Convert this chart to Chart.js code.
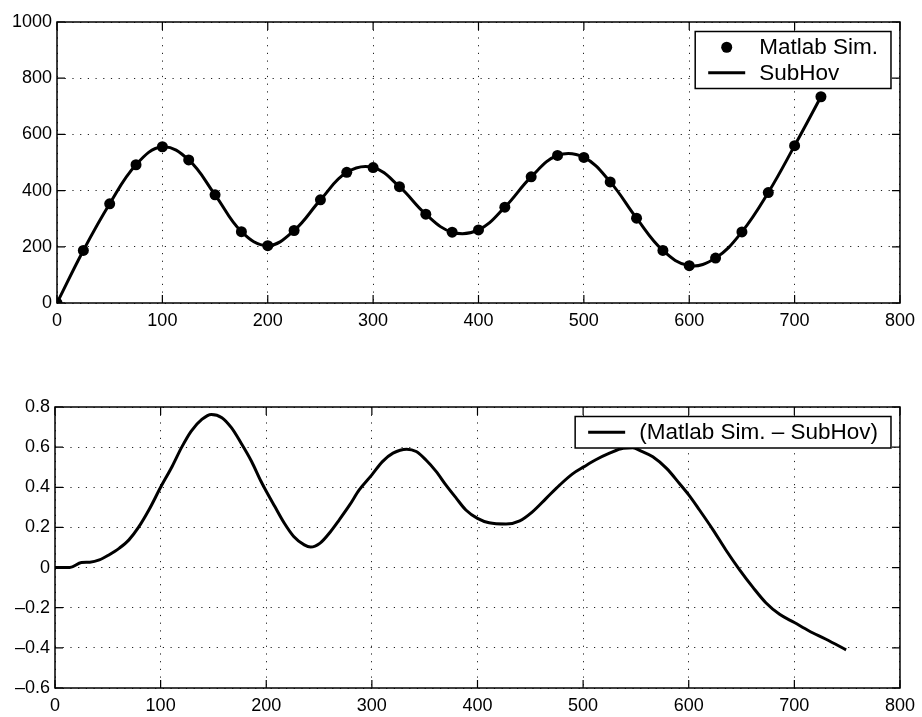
<!DOCTYPE html>
<html>
<head>
<meta charset="utf-8">
<script src="https://cdn.jsdelivr.net/npm/chart.js@4.4.1/dist/chart.umd.min.js"></script>
<style>
  html, body { margin: 0; padding: 0; background: #fff; }
  canvas { position: absolute; left: 0; }
  #chart-top { top: 0; }
  #chart-diff { top: 340px; }
</style>
</head>
<body>
<canvas id="chart-top" width="922" height="340"></canvas>
<canvas id="chart-diff" width="922" height="377"></canvas>
<script>
/* ── data ────────────────────────────────────────────────── */
const SIM_X = [0, 25, 50, 75, 100, 125, 150, 175, 200, 225, 250, 275, 300, 325, 350,
               375, 400, 425, 450, 475, 500, 525, 550, 575, 600, 625, 650, 675, 700, 725];
const SIM_Y = [0, 187, 353, 492, 556, 509, 385, 254, 204, 258, 367, 465, 482, 414, 316,
               252, 260, 341, 449, 525, 518, 431, 302, 187, 133, 160, 253, 393, 560, 734];

const DIFF_X = [0, 14, 25, 33, 42, 51, 61, 70, 79, 89, 100, 111, 120, 129, 139, 148,
                158, 167, 176, 186, 195, 200, 208, 217, 226, 236, 242, 251, 261, 269,
                279, 288, 300, 310, 320, 333, 342, 351, 361, 370, 380, 389, 400, 411,
                427, 440, 452, 465, 478, 490, 501, 512, 525, 538, 547, 555, 566, 579,
                591, 600, 610, 623, 635, 648, 661, 673, 686, 700, 714, 730, 749];
const DIFF_Y = [0, 0, 0.025, 0.027, 0.038, 0.063, 0.097, 0.138, 0.2, 0.288, 0.40, 0.505,
                0.6, 0.68, 0.738, 0.763, 0.747, 0.697, 0.622, 0.53, 0.43, 0.38, 0.305,
                0.222, 0.155, 0.113, 0.102, 0.122, 0.18, 0.237, 0.312, 0.387, 0.462,
                0.528, 0.57, 0.59, 0.578, 0.537, 0.478, 0.412, 0.345, 0.287, 0.245,
                0.223, 0.217, 0.233, 0.278, 0.345, 0.412, 0.467, 0.503, 0.537, 0.57,
                0.595, 0.597, 0.58, 0.552, 0.494, 0.42, 0.362, 0.288, 0.188, 0.089,
                -0.01, -0.1, -0.175, -0.233, -0.274, -0.316, -0.357, -0.41];

const X_TICKS = [0, 100, 200, 300, 400, 500, 600, 700, 800];
const TOP_Y_TICKS = [0, 200, 400, 600, 800, 1000];
const DIFF_Y_TICKS = [-0.6, -0.4, -0.2, 0, 0.2, 0.4, 0.6, 0.8];

const LABEL_SIM = 'Matlab Sim.';
const LABEL_SUB = 'SubHov';
const LABEL_DIFF = '(Matlab Sim. \u2013 SubHov)';

/* ── shared look ─────────────────────────────────────────── */
const FONT = 'Liberation Sans, Arial, Helvetica, sans-serif';
const INK = '#000';

// matlab style box: frame, inward ticks on all sides, boxed legend top-right
const matlabBox = {
  id: 'matlabBox',
  afterDraw(chart) {
    const { ctx, chartArea: a, scales } = chart;
    ctx.save();
    ctx.strokeStyle = INK;
    ctx.lineWidth = 1.5;
    ctx.setLineDash([]);
    ctx.strokeRect(a.left, a.top, a.right - a.left, a.bottom - a.top);

    const tl = 8;
    ctx.lineWidth = 1.2;
    ctx.beginPath();
    scales.x.ticks.forEach(t => {
      const px = scales.x.getPixelForValue(t.value);
      ctx.moveTo(px, a.bottom); ctx.lineTo(px, a.bottom - tl);
      ctx.moveTo(px, a.top); ctx.lineTo(px, a.top + tl);
    });
    scales.y.ticks.forEach(t => {
      const py = scales.y.getPixelForValue(t.value);
      ctx.moveTo(a.left, py); ctx.lineTo(a.left + tl, py);
      ctx.moveTo(a.right, py); ctx.lineTo(a.right - tl, py);
    });
    ctx.stroke();

    // legend
    const items = chart.data.datasets.filter(d => d.label);
    const fs = 22.5, padX = 13, sample = 37, gap = 14, rowH = 25.5, padY = 3;
    ctx.font = `${fs}px ${FONT}`;
    const textW = Math.max(...items.map(d => ctx.measureText(d.label).width));
    const w = padX + sample + gap + textW + padX;
    const h = items.length * rowH + padY * 2;
    const x0 = a.right - 9 - w, y0 = a.top + 9.5;
    ctx.fillStyle = '#fff';
    ctx.fillRect(x0, y0, w, h);
    ctx.lineWidth = 1.5;
    ctx.strokeRect(x0, y0, w, h);
    items.forEach((d, i) => {
      const cy = y0 + padY + rowH * (i + 0.5);
      const sx = x0 + padX;
      if (d.showLine === false) {
        ctx.fillStyle = INK;
        ctx.beginPath();
        ctx.arc(sx + sample / 2, cy, d.pointRadius, 0, Math.PI * 2);
        ctx.fill();
      } else {
        ctx.strokeStyle = INK;
        ctx.lineWidth = d.borderWidth;
        ctx.beginPath();
        ctx.moveTo(sx, cy); ctx.lineTo(sx + sample, cy);
        ctx.stroke();
      }
      ctx.fillStyle = INK;
      ctx.textBaseline = 'middle';
      ctx.textAlign = 'left';
      ctx.fillText(d.label, sx + sample + gap, cy + 1);
    });
    ctx.restore();
  },
};

function axes(yTicks, yFmt, yWidth, xHeight, yMin, yMax) {
  const gridDots = { display: false, dash: [1.2, 6.5] };
  const grid = { color: '#222', lineWidth: 1, drawTicks: false };
  const tickFont = { family: FONT, size: 18 };
  return {
    x: {
      type: 'linear', min: 0, max: 800,
      afterBuildTicks: s => { s.ticks = X_TICKS.map(v => ({ value: v })); },
      afterFit: s => { s.height = xHeight; },
      grid, border: gridDots,
      ticks: { font: tickFont, color: INK, padding: 7, maxRotation: 0, autoSkip: false },
    },
    y: {
      type: 'linear', min: yMin, max: yMax,
      afterBuildTicks: s => { s.ticks = yTicks.map(v => ({ value: v })); },
      afterFit: s => { s.width = yWidth; },
      grid, border: gridDots,
      ticks: { font: tickFont, color: INK, padding: 5, autoSkip: false, callback: yFmt },
    },
  };
}

const baseOpts = {
  responsive: false,
  devicePixelRatio: 1,
  animation: false,
  plugins: { legend: { display: false }, tooltip: { enabled: false } },
};

// ── 1. Matlab Sim. vs SubHov ────────────────────────────────
new Chart(document.getElementById('chart-top'), {
  type: 'line',
  data: {
    datasets: [
      {
        label: LABEL_SIM,
        data: SIM_X.map((x, i) => ({ x, y: SIM_Y[i] })),
        showLine: false,
        pointRadius: 5.5,
        pointBackgroundColor: INK,
        pointBorderWidth: 0,
        order: 1,
      },
      {
        label: LABEL_SUB,
        data: SIM_X.map((x, i) => ({ x, y: SIM_Y[i] })),
        borderColor: INK,
        borderWidth: 3,
        pointRadius: 0,
        tension: 0.4,
        order: 2,
      },
    ],
  },
  options: {
    ...baseOpts,
    layout: { padding: { top: 22, right: 19, left: 0, bottom: 0 } },
    scales: axes(TOP_Y_TICKS, v => String(v), 57, 37, 0, 1000),
  },
  plugins: [matlabBox],
});

// ── 2. Difference ───────────────────────────────────────────
new Chart(document.getElementById('chart-diff'), {
  type: 'line',
  data: {
    datasets: [{
      label: LABEL_DIFF,
      data: DIFF_X.map((x, i) => ({ x, y: DIFF_Y[i] })),
      borderColor: INK,
      borderWidth: 3,
      pointRadius: 0,
      cubicInterpolationMode: 'monotone',
    }],
  },
  options: {
    ...baseOpts,
    layout: { padding: { top: 67, right: 20, left: 0, bottom: 0 } },
    scales: axes(DIFF_Y_TICKS,
      v => Math.abs(v) < 1e-9 ? '0' : (v < 0 ? '\u2013' : '') + Math.abs(v).toFixed(1),
      55, 29, -0.6, 0.8),
  },
  plugins: [matlabBox],
});
</script>
</body>
</html>
